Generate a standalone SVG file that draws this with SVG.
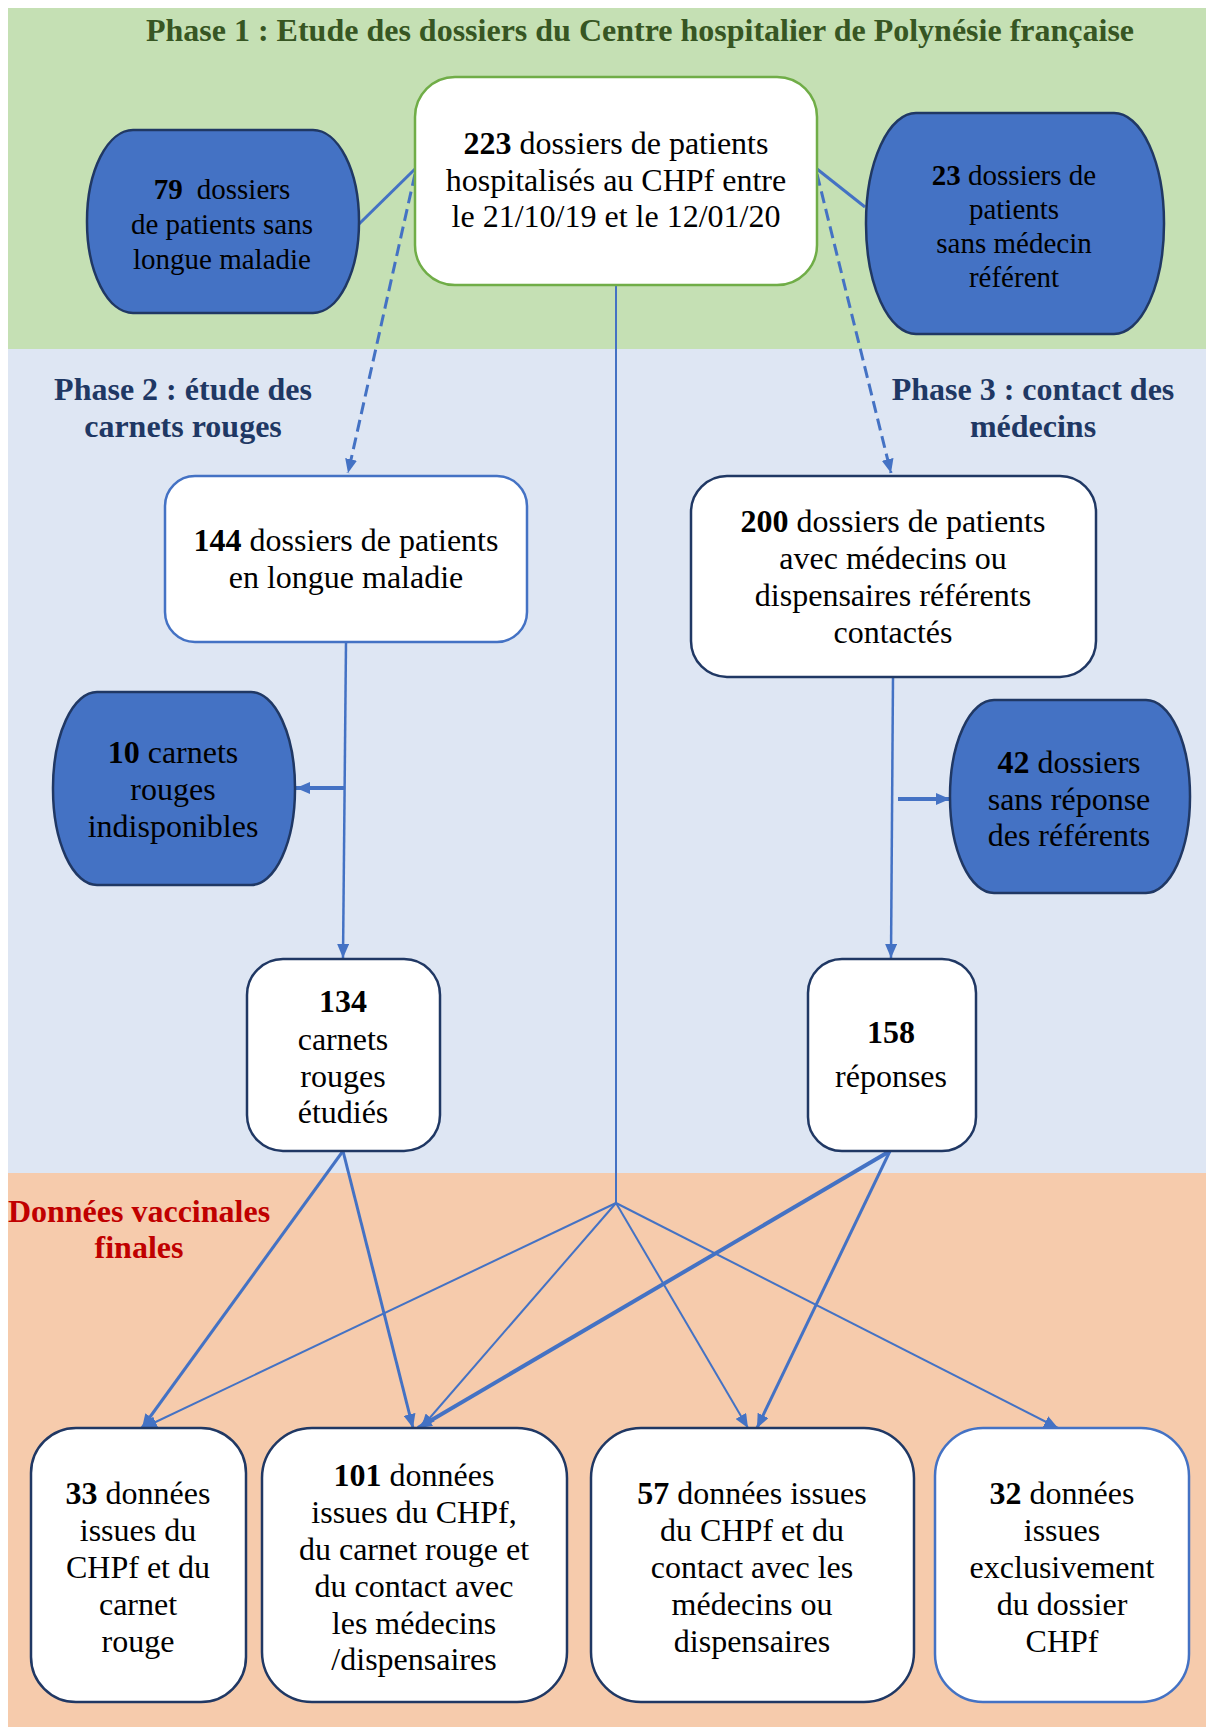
<svg xmlns="http://www.w3.org/2000/svg" width="1206" height="1727" viewBox="0 0 1206 1727">
<style>
text{font-family:"Liberation Serif","Times New Roman",serif;font-size:32px;fill:#000;text-anchor:middle}
.b{font-weight:bold}
.s29{font-size:29px}
.white{fill:#fff;stroke-width:2.5}
.blue{fill:#4472C4;stroke:#203864;stroke-width:2.5}
.dark{stroke:#203864}
.mid{stroke:#4472C4}
.green{stroke:#70AD47}
.ln{stroke:#4472C4;fill:none}
.title{fill:#375623;font-weight:bold;font-size:32px}
.navy{fill:#1F3864;font-weight:bold}
.red{fill:#C00000;font-weight:bold}
</style>
<defs>
<marker id="ah" markerUnits="userSpaceOnUse" markerWidth="14" markerHeight="12" refX="14" refY="6" orient="auto">
<path d="M0,0 L14,6 L0,12 z" fill="#4472C4"/>
</marker>
</defs>
<g id="background">
<rect x="0" y="0" width="1206" height="1727" fill="#fff"/>
<rect x="8" y="8" width="1198" height="341" fill="#C5E0B4"/>
<rect x="8" y="349" width="1198" height="824" fill="#DEE6F3"/>
<rect x="8" y="1173" width="1198" height="554" fill="#F6CBAC"/>
</g>
<g id="labels">
<text class="title" x="640" y="41">Phase 1 : Etude des dossiers du Centre hospitalier de Polynésie française</text>
<text class="navy" x="183" y="400">Phase 2 : étude des</text>
<text class="navy" x="183" y="437">carnets rouges</text>
<text class="navy" x="1033" y="400">Phase 3 : contact des</text>
<text class="navy" x="1033" y="437">médecins</text>
<text class="red" x="139" y="1222">Données vaccinales</text>
<text class="red" x="139" y="1258">finales</text>
</g>
<g id="connectors">
<line class="ln" x1="415" y1="169" x2="359" y2="224" stroke-width="3"/>
<line class="ln" x1="817" y1="169" x2="865" y2="207" stroke-width="3"/>
<line class="ln" x1="415" y1="174" x2="348" y2="473" stroke-width="3" stroke-dasharray="12 6" marker-end="url(#ah)"/>
<line class="ln" x1="817" y1="174" x2="891" y2="473" stroke-width="3" stroke-dasharray="12 6" marker-end="url(#ah)"/>
<line class="ln" x1="616" y1="285" x2="616" y2="1204" stroke-width="2"/>
<line class="ln" x1="346" y1="642" x2="343" y2="958" stroke-width="2.5" marker-end="url(#ah)"/>
<line class="ln" x1="345" y1="788" x2="296" y2="788" stroke-width="4" marker-end="url(#ah)"/>
<line class="ln" x1="893" y1="677" x2="891" y2="958" stroke-width="2.5" marker-end="url(#ah)"/>
<line class="ln" x1="898" y1="799" x2="950" y2="799" stroke-width="4" marker-end="url(#ah)"/>
<line class="ln" x1="343" y1="1151" x2="142" y2="1428" stroke-width="3" marker-end="url(#ah)"/>
<line class="ln" x1="343" y1="1151" x2="413" y2="1428" stroke-width="3" marker-end="url(#ah)"/>
<line class="ln" x1="890" y1="1151" x2="418" y2="1428" stroke-width="4" marker-end="url(#ah)"/>
<line class="ln" x1="890" y1="1151" x2="757" y2="1428" stroke-width="3" marker-end="url(#ah)"/>
<line class="ln" x1="616" y1="1203" x2="143" y2="1428" stroke-width="2" marker-end="url(#ah)"/>
<line class="ln" x1="616" y1="1203" x2="421" y2="1428" stroke-width="2" marker-end="url(#ah)"/>
<line class="ln" x1="616" y1="1203" x2="748" y2="1428" stroke-width="2" marker-end="url(#ah)"/>
<line class="ln" x1="616" y1="1203" x2="1058" y2="1428" stroke-width="2" marker-end="url(#ah)"/>
</g>
<g id="n223">
<rect class="white green" x="415" y="77" width="402" height="208" rx="40" ry="40"/>
<text x="616" y="154"><tspan class="b">223</tspan> dossiers de patients</text>
<text x="616" y="191">hospitalisés au CHPf entre</text>
<text x="616" y="227">le 21/10/19 et le 12/01/20</text>
</g>
<g id="n79">
<rect class="blue" x="87" y="130" width="272" height="183" rx="46" ry="91"/>
<text class="s29" x="222" y="199"><tspan class="b">79</tspan><tspan dx="14">dossiers</tspan></text>
<text class="s29" x="222" y="234">de patients sans</text>
<text class="s29" x="222" y="269">longue maladie</text>
</g>
<g id="n23">
<rect class="blue" x="866" y="113" width="298" height="221" rx="50" ry="110"/>
<text class="s29" x="1014" y="185"><tspan class="b">23</tspan> dossiers de</text>
<text class="s29" x="1014" y="219">patients</text>
<text class="s29" x="1014" y="253">sans médecin</text>
<text class="s29" x="1014" y="287">référent</text>
</g>
<g id="n144">
<rect class="white mid" x="165" y="476" width="362" height="166" rx="30" ry="30"/>
<text x="346" y="551"><tspan class="b">144</tspan> dossiers de patients</text>
<text x="346" y="588">en longue maladie</text>
</g>
<g id="n200">
<rect class="white dark" x="691" y="476" width="405" height="201" rx="36" ry="36"/>
<text x="893" y="532"><tspan class="b">200</tspan> dossiers de patients</text>
<text x="893" y="569">avec médecins ou</text>
<text x="893" y="606">dispensaires référents</text>
<text x="893" y="643">contactés</text>
</g>
<g id="n10">
<rect class="blue" x="53" y="692" width="242" height="193" rx="44" ry="96"/>
<text x="173" y="763"><tspan class="b">10</tspan> carnets</text>
<text x="173" y="800">rouges</text>
<text x="173" y="837">indisponibles</text>
</g>
<g id="n42">
<rect class="blue" x="950" y="700" width="240" height="193" rx="44" ry="96"/>
<text x="1069" y="773"><tspan class="b">42</tspan> dossiers</text>
<text x="1069" y="810">sans réponse</text>
<text x="1069" y="846">des référents</text>
</g>
<g id="n134">
<rect class="white dark" x="247" y="959" width="193" height="192" rx="36" ry="36"/>
<text class="b" x="343" y="1012">134</text>
<text x="343" y="1050">carnets</text>
<text x="343" y="1087">rouges</text>
<text x="343" y="1123">étudiés</text>
</g>
<g id="n158">
<rect class="white dark" x="808" y="959" width="168" height="192" rx="34" ry="34"/>
<text class="b" x="891" y="1043">158</text>
<text x="891" y="1087">réponses</text>
</g>
<g id="n33">
<rect class="white dark" x="31" y="1428" width="215" height="274" rx="45" ry="45"/>
<text x="138" y="1504"><tspan class="b">33</tspan> données</text>
<text x="138" y="1541">issues du</text>
<text x="138" y="1578">CHPf et du</text>
<text x="138" y="1615">carnet</text>
<text x="138" y="1652">rouge</text>
</g>
<g id="n101">
<rect class="white dark" x="262" y="1428" width="305" height="274" rx="50" ry="50"/>
<text x="414" y="1486"><tspan class="b">101</tspan> données</text>
<text x="414" y="1523">issues du CHPf,</text>
<text x="414" y="1560">du carnet rouge et</text>
<text x="414" y="1597">du contact avec</text>
<text x="414" y="1634">les médecins</text>
<text x="414" y="1670">/dispensaires</text>
</g>
<g id="n57">
<rect class="white dark" x="591" y="1428" width="323" height="274" rx="50" ry="50"/>
<text x="752" y="1504"><tspan class="b">57</tspan> données issues</text>
<text x="752" y="1541">du CHPf et du</text>
<text x="752" y="1578">contact avec les</text>
<text x="752" y="1615">médecins ou</text>
<text x="752" y="1652">dispensaires</text>
</g>
<g id="n32">
<rect class="white mid" x="935" y="1428" width="254" height="274" rx="48" ry="48"/>
<text x="1062" y="1504"><tspan class="b">32</tspan> données</text>
<text x="1062" y="1541">issues</text>
<text x="1062" y="1578">exclusivement</text>
<text x="1062" y="1615">du dossier</text>
<text x="1062" y="1652">CHPf</text>
</g>
</svg>
